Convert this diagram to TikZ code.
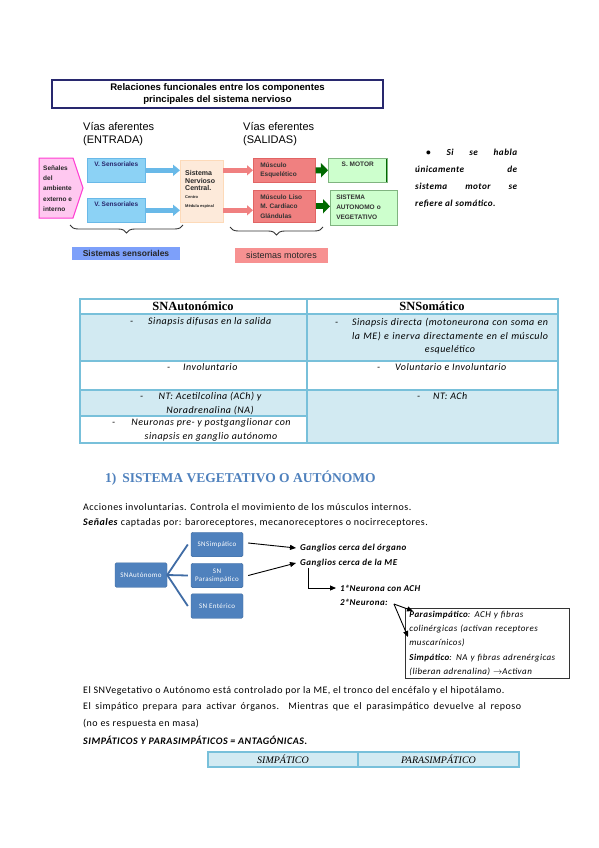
\documentclass[tikz,border=0pt]{standalone}
\usepackage{fontspec}
\setmainfont[LetterSpace=5]{Carlito}
\newfontfamily\arial{Liberation Sans}
\newfontfamily\cambria{Liberation Serif}
\usetikzlibrary{arrows.meta,positioning,decorations.pathreplacing}
\definecolor{navyline}{RGB}{40,40,110}
\definecolor{pinkfill}{RGB}{255,200,240}
\definecolor{pinkline}{RGB}{255,60,210}
\definecolor{skyfill}{RGB}{140,210,245}
\definecolor{skyline}{RGB}{105,185,232}
\definecolor{peachfill}{RGB}{253,234,218}
\definecolor{salmon}{RGB}{240,128,128}
\definecolor{salmonline}{RGB}{225,100,100}
\definecolor{mintfill}{RGB}{205,255,205}
\definecolor{darkgreen}{RGB}{0,105,0}
\definecolor{lblblue}{RGB}{125,160,250}
\definecolor{lblred}{RGB}{247,145,145}
\definecolor{tabline}{RGB}{120,192,218}
\definecolor{tabfill}{RGB}{210,234,242}
\definecolor{headblue}{RGB}{79,129,189}
\definecolor{artline}{RGB}{64,108,165}
\tikzset{
  titlebox/.style={draw=navyline,line width=1.4pt,minimum width=331,minimum height=28,
                   align=center,inner sep=0pt,font=\arial\bfseries\fontsize{9.6}{11.5}\selectfont},
  via/.style     ={anchor=west,inner sep=0pt,align=left,font=\arial\fontsize{11}{13}\selectfont},
  dia/.style     ={anchor=west,inner sep=0pt,align=left,text=black!85,
                   font=\arial\bfseries\fontsize{6.5}{8}\selectfont},
  toptext/.style ={text height=5pt,text depth=13pt},
  vbox/.style    ={fill=skyfill,draw=skyline,line width=0.6pt,minimum width=58,minimum height=24,
                   anchor=north west,inner sep=0pt,text=navyline,
                   font=\arial\bfseries\fontsize{6.5}{8}\selectfont},
  sncbox/.style  ={fill=peachfill,draw=peachfill!85!orange,minimum width=43,minimum height=62,
                   anchor=north west,inner sep=0pt},
  musbox/.style  ={fill=salmon,draw=salmonline,line width=0.6pt,anchor=north west,align=left,
                   text width=48,inner xsep=7pt,inner ysep=0pt,text=black!80,
                   font=\arial\bfseries\fontsize{6.5}{9.5}\selectfont},
  mintbox/.style ={fill=mintfill,draw=darkgreen!50,line width=0.5pt,anchor=north west,align=left,
                   inner xsep=6pt,inner ysep=0pt,text=black!80,
                   font=\arial\bfseries\fontsize{6.5}{10}\selectfont,
                   path picture={\draw[darkgreen,line width=2.4pt]
                     (path picture bounding box.south west) -- (path picture bounding box.north west);}},
  bluearr/.style ={draw=skyline,line width=5pt,-{Triangle[width=11pt,length=7pt]}},
  redarr/.style  ={draw=salmon,line width=4.5pt,-{Triangle[width=10pt,length=6pt]}},
  greenarr/.style={draw=darkgreen,line width=6pt,-{Triangle[width=14pt,length=7pt]}},
  brace/.style   ={draw=black!80,line width=0.9pt,decorate,decoration={brace,mirror,amplitude=8pt}},
  lblbox/.style  ={inner sep=0pt,text=black!85,font=\arial\fontsize{9}{10}\selectfont},
  note/.style    ={anchor=north west,inner sep=0pt,align=left,
                   font=\bfseries\itshape\fontsize{9.2}{17}\selectfont},
  tabrule/.style ={draw=tabline,line width=1.2pt},
  tabhead/.style ={inner sep=0pt,font=\cambria\bfseries\fontsize{12.5}{13}\selectfont},
  cell/.style    ={anchor=west,inner sep=0pt,text height=7pt,text depth=2.5pt,
                   font=\itshape\fontsize{10}{13.5}\selectfont},
  cellc/.style   ={inner sep=0pt,align=center,font=\itshape\fontsize{10}{14}\selectfont},
  heading/.style ={anchor=west,inner sep=0pt,text=headblue,font=\cambria\bfseries\fontsize{13.5}{14}\selectfont},
  body/.style    ={anchor=west,inner sep=0pt,font=\fontsize{10}{11}\selectfont},
  art/.style     ={fill=headblue,draw=headblue!85!black,line width=0.4pt,rounded corners=1.5pt,
                   minimum width=52,minimum height=24.5,align=center,inner sep=0pt,text=white,
                   font=\fontsize{7}{8}\selectfont},
  artlink/.style ={draw=artline,line width=1.8pt},
  gang/.style    ={anchor=west,inner sep=0pt,font=\bfseries\itshape\fontsize{9}{10}\selectfont},
  blackarr/.style={draw=black,line width=0.9pt,-{Triangle[length=6pt,width=5pt]}},
  infobox/.style ={draw=black!80,line width=0.8pt,anchor=north west,align=left,text width=156,
                   inner xsep=4pt,inner ysep=2pt,minimum height=70,
                   font=\itshape\fontsize{9}{14.3}\selectfont},
}

\begin{document}
\begin{tikzpicture}[x=1pt,y=-1pt]
\useasboundingbox[fill=white] (0,0) rectangle (599,848);
% relaciones funcionales
\node[titlebox] (title) at (217.5,94) {Relaciones funcionales entre los componentes\\principales del sistema nervioso};
\node[via] (aff) at (83,134.5) {Vías aferentes\\(ENTRADA)};
\node[via] (eff) at (243,134.5) {Vías eferentes\\(SALIDAS)};
\draw[fill=pinkfill,draw=pinkline,line width=1pt] (39,158) -- (73,158) -- (83,188) -- (73,218) -- (39,218) -- cycle;
\node[dia,font=\arial\bfseries\fontsize{6.5}{10.3}\selectfont] (senales) at (43,188.5) {Señales\\del\\ambiente\\externo e\\interno};
\node[vbox,toptext] (vs1) at (87,158) {V. Sensoriales};
\node[vbox,toptext] (vs2) at (87,198) {V. Sensoriales};
\node[sncbox] (snc) at (180,160) {};
\node[dia,font=\arial\bfseries\fontsize{7}{7.6}\selectfont] (snctxt) at (185,180.5) {Sistema\\Nervioso\\Central.};
\node[dia,font=\arial\bfseries\fontsize{4}{9}\selectfont] (sncsub) at (185,202.5) {Centro\\Médula espinal};
\node[musbox,minimum height=24] (mus1) at (253,158) {Músculo\\Esquelético};
\node[musbox,minimum height=32] (mus2) at (253,190) {Músculo Liso\\M. Cardíaco\\Glándulas};
\node[mintbox,toptext,minimum width=59,minimum height=24,
      path picture={\draw[darkgreen,line width=2.4pt] (path picture bounding box.south east) -- (path picture bounding box.north east);}]
      (smotor) at (328,158) {S. MOTOR};
\node[mintbox,text width=55,minimum height=35] (sauto) at (330,190) {SISTEMA\\AUTONOMO o\\VEGETATIVO};
\draw[bluearr] (vs1.east) -- (vs1.east -| snc.west);
\draw[bluearr] (vs2.east) -- (vs2.east -| snc.west);
\draw[redarr] (snc.east |- vs1.east) -- (mus1.west |- vs1.east);
\draw[redarr] (snc.east |- vs2.east) -- (mus2.west |- vs2.east);
\draw[greenarr] (mus1.east) -- (smotor.west);
\draw[greenarr] (mus2.east) -- (sauto.west |- mus2.east);
\coordinate (bs1) at (70,225);  \coordinate (bs2) at (183,225);
\coordinate (bm1) at (230,227); \coordinate (bm2) at (323,227);
\draw[brace] (bs1) -- (bs2);
\draw[brace] (bm1) -- (bm2);
\node[lblbox,fill=lblblue,minimum width=108,minimum height=13,font=\arial\bfseries\fontsize{8.5}{10}\selectfont] (sens) at (126,253.5) {Sistemas sensoriales};
\node[lblbox,fill=lblred,minimum width=93,minimum height=15] (mot) at (281.5,255.5) {sistemas motores};
\node[note] (nota) at (415,148.5) {\hbox to 102pt{\hspace{11pt}\textbullet\hfill Si\hfill se\hfill habla}\\
  \hbox to 102pt{únicamente\hfill de}\\ \hbox to 102pt{sistema\hfill motor\hfill se}\\ refiere al somático.};
% tabla SNA / SNS
\fill[tabfill] (80,314) rectangle (558,361);
\fill[tabfill] (80,390) rectangle (558,416);
\fill[tabfill] (307,416) rectangle (558,443);
\draw[tabrule] (80,299) rectangle (558,443);
\draw[tabrule] (80,314) -- (558,314) (80,361) -- (558,361) (80,390) -- (558,390)
               (80,416) -- (307,416) (307,299) -- (307,443);
\node[tabhead] (hauto) at (193,306.5) {SNAutonómico};
\node[tabhead] (hsoma) at (432,306.5) {SNSomático};
\node[cell] (d1) at (130,322) {-};
\node[cell] (t1) at (148,322) {Sinapsis difusas en la salida};
\node[cell] (d2) at (335,323) {-};
\node[cellc,font=\itshape\fontsize{10}{13.5}\selectfont] (t2) at (450,336.5) {\makebox[196pt][s]{Sinapsis directa (motoneurona con soma en}\\
  \makebox[196pt][s]{la ME) e inerva directamente en el músculo}\\esquelético};
\node[cell] (d3) at (167,368) {-};
\node[cell] (t3) at (183,368) {Involuntario};
\node[cell] (d4) at (377,368) {-};
\node[cell] (t4) at (395,368) {Voluntario e Involuntario};
\node[cell] (d5) at (140,397) {-};
\node[cellc] (t5) at (210,404) {NT: Acetilcolina (ACh) y\\Noradrenalina (NA)};
\node[cell] (d6) at (417,397) {-};
\node[cell] (t6) at (433,397) {NT: ACh};
\node[cell] (d7) at (112,423) {-};
\node[cellc] (t7) at (211,430) {Neuronas pre- y postganglionar con\\sinapsis en ganglio autónomo};
% sistema vegetativo
\node[heading] (h1) at (105,478) {1)\hspace{6pt}SISTEMA VEGETATIVO O AUTÓNOMO};
\node[body] (l1) at (83,507) {Acciones involuntarias. Controla el movimiento de los músculos internos.};
\node[body] (l2) at (83,523) {\textbf{\textit{Señales}} captadas por: baroreceptores, mecanoreceptores o nocirreceptores.};
\node[art] (sna) at (141,575) {SNAutónomo};
\node[art] (snsim) at (217,544.5) {SNSimpático};
\node[art] (snpar) at (217,575.5) {SN\\Parasimpático};
\node[art] (snent) at (217,606) {SN Entérico};
\draw[artlink] (sna.east) -- ([xshift=-3pt]snsim.west);
\draw[artlink] (sna.east) -- ([xshift=-3pt]snpar.west);
\draw[artlink] (sna.east) -- ([xshift=-3pt]snent.west);
\node[gang] (g1) at (300,548) {Ganglios cerca del órgano};
\node[gang] (g2) at (300,563) {Ganglios cerca de la ME};
\draw[blackarr] ([xshift=5pt,yshift=1.5pt]snsim.east) -- ([xshift=-4pt]g1.west);
\draw[blackarr] ([xshift=5pt]snpar.east) -- ([xshift=-4pt]g2.west);
\node[gang] (n1) at (340,588) {1ªNeurona con ACH};
\node[gang] (n2) at (340,602) {2ªNeurona:};
\draw[blackarr] ([xshift=8pt,yshift=-1pt]g2.south west) |- ([xshift=-4pt]n1.west);
\node[infobox] (info) at (405,608) {\textbf{Parasimpático}: ACH y fibras\\colinérgicas (activan receptores\\muscarínicos)\\
  \textbf{Simpático}: NA y fibras adrenérgicas\\(liberan adrenalina) $\rightarrow$Activan};
\draw[blackarr] ([xshift=6pt,yshift=-2pt]n2.east) -- ([xshift=8pt,yshift=-3pt]info.north west);
\draw[blackarr] ([xshift=6pt,yshift=-2pt]n2.east) -- ([xshift=3pt,yshift=-29pt]info.north west);
\node[body] (l3) at (83,691) {El SNVegetativo o Autónomo está controlado por la ME, el tronco del encéfalo y el hipotálamo.};
\node[body] (l4) at (83,707) {\makebox[438pt][s]{El simpático prepara para activar órganos. Mientras que el parasimpático devuelve al reposo}};
\node[body] (l5) at (83,724) {(no es respuesta en masa)};
\node[body,font=\bfseries\itshape\fontsize{10}{11}\selectfont] (l6) at (83,740) {SIMPÁTICOS Y PARASIMPÁTICOS = ANTAGÓNICAS.};
\fill[tabfill] (208,752) rectangle (519,767);
\draw[tabrule] (208,752) rectangle (519,767) (358,752) -- (358,767);
\node[inner sep=0pt,font=\cambria\itshape\fontsize{10}{11}\selectfont] (simp) at (283,759.5) {SIMPÁTICO};
\node[inner sep=0pt,font=\cambria\itshape\fontsize{10}{11}\selectfont] (para) at (438.5,759.5) {PARASIMPÁTICO};
\end{tikzpicture}
\end{document}
